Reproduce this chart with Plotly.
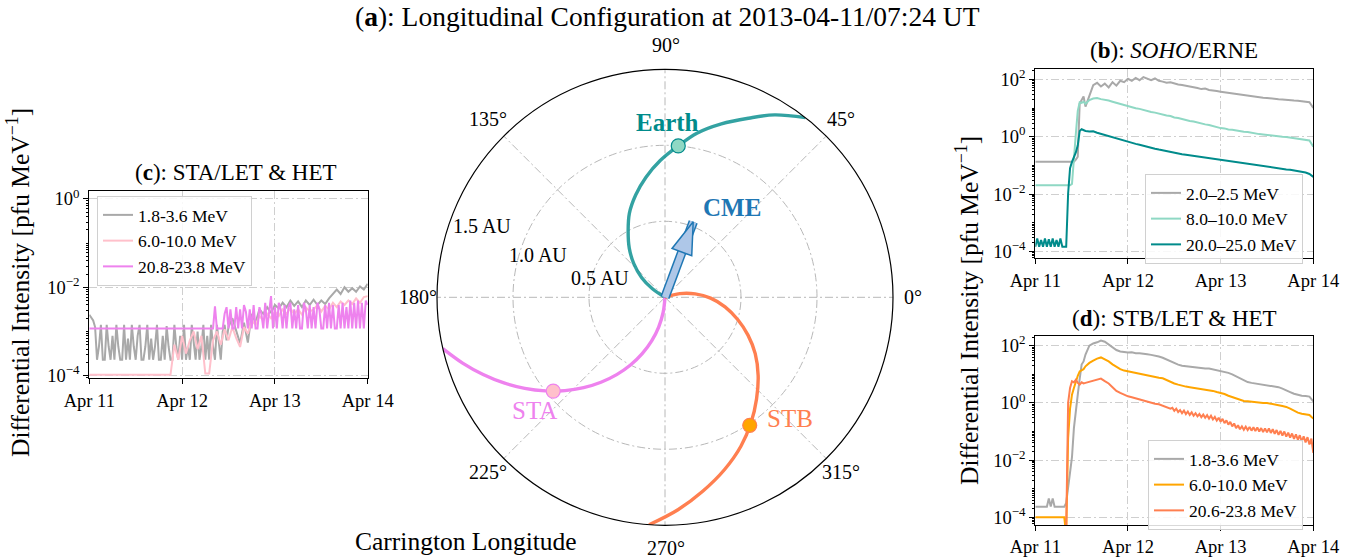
import numpy as np
import pandas as pd
import plotly.graph_objects as go

W, H = 1365, 560
T0 = pd.Timestamp("2013-04-11 00:00")
FONT = "Liberation Serif"

# ---------------- panel (a): longitudinal configuration ----------------
spiral_r_au = [0.0, 0.1, 0.2, 0.3, 0.4, 0.5, 0.6, 0.7, 0.8, 0.9, 1.0, 1.1, 1.2, 1.3, 1.4, 1.5]
earth_spiral_lon = [153, 146, 140, 133, 126, 119, 113, 106, 99, 92, 85, 79, 72, 65, 59, 52]
sta_spiral_lon = [268, 263, 258, 253, 248, 243, 238, 233, 228, 223, 218, 213, 208, 203, 198, 193]
stb_spiral_lon = [382, 374, 366.5, 359, 351, 343, 335.5, 328, 320, 312, 304.5, 297, 289, 281, 273.5, 266]
body_names = ["Earth", "STA", "STB"]
body_r_au = [1.0, 0.96, 1.01]
body_lon = [85.0, 220.0, 303.5]
cme_lon = 69.5
cme_r_au = [0.0, 0.53]
radial_ticks_au = [0.5, 1.0, 1.5]
radial_tick_text = ["0.5 AU", "1.0 AU", "1.5 AU"]
angular_ticks_deg = [0, 45, 90, 135, 180, 225, 270, 315]

# ---------------- time axes ----------------
day_ticks = ["2013-04-11", "2013-04-12", "2013-04-13", "2013-04-14"]
day_tick_labels = ["Apr 11", "Apr 12", "Apr 13", "Apr 14"]

# panel (c) STA/LET & HET, values = log10(intensity); hours since 2013-04-11 00:00
sta_lo_hours = [0.5 * i for i in range(72)] + list(range(36, 73))
sta_18_36 = [-2.62, -2.68, -2.75, -2.9, -3.64, -3.34, -2.85, -3.64, -3.64, -2.85,
             -3.34, -3.64, -3.1, -3.64, -2.85, -3.34, -3.64, -3.64, -2.85, -3.64,
             -3.16, -3.64, -2.85, -3.34, -3.64, -3.1, -2.85, -3.64, -3.64, -3.34,
             -2.85, -3.64, -3.16, -3.64, -3.34, -2.85, -3.64, -3.64, -3.1, -3.64,
             -2.88, -3.34, -3.64, -3.64, -2.85, -3.34, -3.64, -3.1, -3.64, -2.85,
             -3.64, -3.34, -3.64, -2.85, -3.2, -3.64, -3.0, -3.64, -3.34, -2.85,
             -3.64, -3.1, -3.64, -2.85, -3.34, -3.64, -2.85, -3.2, -3.64, -3.0,
             -2.85, -3.2,
             -2.9, -2.7, -3.0, -3.27, -2.8, -3.25, -2.6, -2.8, -2.5, -2.6,
             -2.45, -2.58, -2.4, -2.48, -2.35, -2.45, -2.3, -2.42, -2.32, -2.45,
             -2.3, -2.4, -2.28, -2.4, -2.3, -2.38, -2.25, -2.15, -2.05, -2.15,
             -2.0, -2.1, -2.02, -2.1, -1.98, -2.05, -1.92]
sta_mid_step_h = 1.0
sta_60_100 = [-3.98] * 22 + [
             -3.3, -3.64, -3.1, -3.5, -3.2, -3.0, -3.4, -3.1, -3.95, -3.95,
             -3.2, -3.0, -3.3, -2.95, -3.2, -2.9, -3.15, -3.35, -2.9, -3.05,
             -2.75, -2.85, -2.65, -2.75, -2.6, -2.7, -2.55, -2.65, -2.5, -2.6,
             -2.48, -2.6, -2.5, -2.62, -2.45, -2.55, -2.5, -2.4, -2.55, -2.42,
             -2.5, -2.35, -2.45, -2.32, -2.4, -2.3, -2.38, -2.25, -2.35, -2.22, -2.2]
sta_hi_step_h = 0.5
sta_208_238 = [-2.93] * 64 + [
             -2.93, -2.43, -2.93, -2.93, -2.93, -2.93, -2.6, -2.45, -2.93, -2.5,
             -2.93, -2.93, -2.45, -2.93, -2.5, -2.93, -2.4, -2.55, -2.93, -2.5,
             -2.93, -2.4, -2.93, -2.93, -2.45, -2.6, -2.93, -2.35, -2.93, -2.5,
             -2.2, -2.93, -2.45, -2.93, -2.35, -2.5, -2.93, -2.4, -2.93, -2.45,
             -2.35, -2.93, -2.5, -2.93, -2.4, -2.93, -2.93, -2.35, -2.5, -2.93,
             -2.4, -2.93, -2.45, -2.93, -2.35, -2.5, -2.93, -2.93, -2.4, -2.93,
             -2.35, -2.93, -2.4, -2.93, -2.93, -2.4, -2.93, -2.35, -2.93, -2.45,
             -2.93, -2.3, -2.93, -2.35, -2.93, -2.3, -2.93, -2.35, -2.93, -2.3, -2.4]

# panels (b) and (d): sample hours since 2013-04-11 00:00
fast_hours = [0, 0.5, 1, 1.5, 2, 2.5, 3, 3.5, 4, 4.5, 5, 5.5, 6, 6.5, 7, 7.5, 8, 8.5,
              9, 9.5, 10, 10.5, 11, 11.5, 12, 12.5, 13] + list(range(14, 73))
# 20.6-23.8 MeV STB channel: same grid up to 35 h, then half-hourly
stb_hi_hours = fast_hours[:49] + [35.5 + 0.5 * i for i in range(74)]

# panel (b) SOHO/ERNE, log10(intensity)
erne_20_25 = [-0.874] * 21 + [-0.80, -0.70, 1.16, 1.30, 1.40, 1.05,
             1.45, 1.80, 1.88, 1.75, 1.85, 1.72, 1.90, 1.78, 1.95, 1.90,
             2.02, 1.95, 2.05, 1.97, 2.08, 2.02, 1.97, 2.03, 1.95, 1.92,
             1.88, 1.90, 1.85, 1.82, 1.80, 1.78, 1.74, 1.72, 1.70, 1.66,
             1.68, 1.63, 1.62, 1.59, 1.57, 1.55, 1.54, 1.52, 1.50, 1.46,
             1.45, 1.43, 1.40, 1.39, 1.37, 1.36, 1.35, 1.33, 1.32, 1.31,
             1.30, 1.28, 1.27, 1.26, 1.25, 1.23, 1.22, 1.20, 1.00]
erne_80_100 = [-1.69] * 19 + [-1.65, -0.6, 0.1, 0.9, 1.20, 1.18, 1.22, 1.15,
             1.28, 1.33, 1.35, 1.31, 1.29, 1.26, 1.22, 1.18, 1.13, 1.10,
             1.05, 1.03, 0.99, 0.97, 0.93, 0.91, 0.86, 0.84, 0.80, 0.78,
             0.74, 0.72, 0.67, 0.65, 0.61, 0.59, 0.55, 0.53, 0.49, 0.47,
             0.43, 0.41, 0.37, 0.34, 0.30, 0.29, 0.25, 0.24, 0.21, 0.20,
             0.17, 0.16, 0.13, 0.12, 0.09, 0.08, 0.06, 0.05, 0.03, 0.02,
             0.0, -0.01, -0.03, -0.04, -0.06, -0.07, -0.10, -0.13, -0.35]
erne_200_250 = [-3.84, -3.55, -3.84, -3.6, -3.84, -3.55, -3.84, -3.58, -3.84, -3.55,
             -3.84, -3.6, -3.84, -3.55, -3.84, -3.84, -3.84,
             -1.98, -1.1, -0.88, -0.72, -0.55, -0.3, 0.2, 0.26, 0.22, 0.20,
             0.18, 0.19, 0.14, 0.10, 0.06, 0.03, -0.01, -0.05, -0.09, -0.14,
             -0.19, -0.22, -0.25, -0.28, -0.32, -0.35, -0.38, -0.42, -0.45, -0.48,
             -0.50, -0.53, -0.56, -0.58, -0.61, -0.63, -0.65, -0.67, -0.70, -0.72,
             -0.74, -0.76, -0.78, -0.80, -0.82, -0.84, -0.86, -0.88, -0.90, -0.92,
             -0.94, -0.96, -0.98, -1.00, -1.02, -1.03, -1.05, -1.07, -1.08, -1.10,
             -1.12, -1.14, -1.15, -1.17, -1.20, -1.22, -1.25, -1.30, -1.40]

# panel (d) STB/LET & HET, log10(intensity)
stb_18_36 = [-3.63, -3.63, -3.63, -3.63, -3.63, -3.63, -3.63, -3.34, -3.62, -3.34,
             -3.63, -3.63, -3.63, -3.63, -3.63, -3.63, -3.5, -2.98, -2.5, -1.9,
             -0.88, -0.2, 0.29, 0.85, 1.34, 1.45, 1.69,
             2.0, 2.08, 2.12, 2.18, 2.14, 2.05, 1.95, 1.85, 1.80, 1.78,
             1.76, 1.77, 1.74, 1.74, 1.71, 1.70, 1.68, 1.66, 1.62, 1.58,
             1.52, 1.45, 1.40, 1.34, 1.30, 1.28, 1.27, 1.25, 1.24, 1.22,
             1.20, 1.20, 1.17, 1.15, 1.13, 1.10, 1.05, 1.00, 0.93, 0.86,
             0.80, 0.73, 0.70, 0.68, 0.65, 0.64, 0.62, 0.60, 0.58, 0.55,
             0.50, 0.45, 0.38, 0.32, 0.28, 0.25, 0.24, 0.22, 0.05]
stb_60_100 = [-4.0] * 16 + [-4.6, -1.23, -0.2, 0.29, 0.52, 0.75, 0.95, 1.1, 1.15, 1.18, 1.28,
             1.40, 1.48, 1.55, 1.59, 1.53, 1.45, 1.35, 1.25, 1.18, 1.13,
             1.10, 1.08, 1.06, 1.03, 1.00, 0.97, 0.94, 0.90, 0.88, 0.86,
             0.80, 0.73, 0.68, 0.64, 0.60, 0.57, 0.55, 0.53, 0.52, 0.50,
             0.48, 0.46, 0.42, 0.38, 0.35, 0.31, 0.25, 0.20, 0.15, 0.10,
             0.07, 0.06, 0.04, 0.02, 0.01, 0.0, 0.0, -0.02, -0.05, -0.08,
             -0.11, -0.14, -0.20, -0.27, -0.34, -0.38, -0.40, -0.42, -0.55]
stb_206_238 = [-5.0] * 16 + [-4.5, 0.0, 0.52, 0.76, 0.72, 0.81, 0.70, 0.64, 0.72, 0.68, 0.70,
             0.74, 0.78, 0.82, 0.85, 0.76, 0.68, 0.55, 0.42, 0.35, 0.28,
             0.23, 0.20, 0.16, 0.12, 0.08, 0.03, 0.0, -0.03, -0.05, -0.10,
             -0.15, -0.20,
             -0.17,
             -0.28, -0.20, -0.32, -0.25, -0.36, -0.27, -0.39, -0.30, -0.42, -0.33,
             -0.45, -0.36, -0.47, -0.39, -0.50, -0.41, -0.52, -0.43, -0.55, -0.45,
             -0.58, -0.49, -0.62, -0.52, -0.66, -0.56, -0.71, -0.61, -0.76, -0.66,
             -0.82, -0.72, -0.88, -0.78, -0.92, -0.82, -0.94, -0.83, -0.95, -0.84,
             -0.97, -0.85, -0.98, -0.86, -1.00, -0.88, -1.02, -0.89, -1.03, -0.89,
             -1.05, -0.92, -1.08, -0.95, -1.12, -0.98, -1.14, -1.00, -1.18, -1.04,
             -1.21, -1.07, -1.26, -1.10, -1.29, -1.13, -1.35, -1.17, -1.38, -1.20,
             -1.45, -1.25, -1.75]

# ---------------- helpers ----------------
def t_from_hours(hours):
    return T0 + pd.to_timedelta(np.asarray(hours, dtype=float), unit="h")

def t_regular(n, step):
    return T0 + pd.to_timedelta(np.arange(n) * step, unit="h")

def unlog(vals):
    return np.power(10.0, np.asarray(vals, dtype=float))

def px(x):
    return x / W

def py(y):
    return 1 - y / H

fig = go.Figure()

# ---------------- polar traces ----------------
spiral_specs = [
    (earth_spiral_lon, "rgba(0,139,139,0.8)"),
    (sta_spiral_lon, "violet"),
    (stb_spiral_lon, "coral"),
]
for lon, col in spiral_specs:
    fig.add_trace(go.Scatterpolar(r=spiral_r_au, theta=lon, mode="lines",
                                  line=dict(color=col, width=3.4, shape="spline"),
                                  showlegend=False, hoverinfo="skip", subplot="polar"))

body_fill = ["#8fd8c4", "pink", "orange"]
body_edge = ["darkcyan", "violet", "coral"]
fig.add_trace(go.Scatterpolar(r=body_r_au, theta=body_lon, mode="markers",
                              marker=dict(size=14, color=body_fill,
                                          line=dict(color=body_edge, width=1.2)),
                              text=body_names, showlegend=False, subplot="polar"))

# CME arrow: outlined shaft plus arrow head
cme_theta = [cme_lon, cme_lon]
fig.add_trace(go.Scatterpolar(r=cme_r_au, theta=cme_theta, mode="lines",
                              line=dict(color="#1f77b4", width=9.5, backoff=27),
                              showlegend=False, hoverinfo="skip", subplot="polar"))
fig.add_trace(go.Scatterpolar(r=cme_r_au, theta=cme_theta, mode="lines",
                              line=dict(color="#aec7e8", width=6.5, backoff=26),
                              showlegend=False, hoverinfo="skip", subplot="polar"))
fig.add_trace(go.Scatterpolar(r=cme_r_au[1:], theta=cme_theta[1:], mode="markers",
                              marker=dict(symbol="arrow", size=34, angle=90 - cme_lon,
                                          color="#aec7e8",
                                          line=dict(color="#1f77b4", width=1.5)),
                              showlegend=False, hoverinfo="skip", subplot="polar"))

# ---------------- time series traces ----------------
LW = 2
# (c)
fig.add_trace(go.Scatter(x=t_from_hours(sta_lo_hours), y=unlog(sta_18_36),
                         mode="lines", line=dict(color="darkgray", width=LW),
                         name="1.8-3.6 MeV", xaxis="x", yaxis="y", legend="legend"))
fig.add_trace(go.Scatter(x=t_regular(len(sta_60_100), sta_mid_step_h), y=unlog(sta_60_100),
                         mode="lines", line=dict(color="pink", width=LW),
                         name="6.0-10.0 MeV", xaxis="x", yaxis="y", legend="legend"))
fig.add_trace(go.Scatter(x=t_regular(len(sta_208_238), sta_hi_step_h), y=unlog(sta_208_238),
                         mode="lines", line=dict(color="violet", width=LW),
                         name="20.8-23.8 MeV", xaxis="x", yaxis="y", legend="legend"))
# (b)
fig.add_trace(go.Scatter(x=t_from_hours(fast_hours), y=unlog(erne_20_25),
                         mode="lines", line=dict(color="darkgray", width=LW),
                         name="2.0\u20132.5 MeV", xaxis="x2", yaxis="y2", legend="legend2"))
fig.add_trace(go.Scatter(x=t_from_hours(fast_hours), y=unlog(erne_80_100),
                         mode="lines", line=dict(color="#8fd8c4", width=LW),
                         name="8.0\u201310.0 MeV", xaxis="x2", yaxis="y2", legend="legend2"))
fig.add_trace(go.Scatter(x=t_from_hours(fast_hours), y=unlog(erne_200_250),
                         mode="lines", line=dict(color="darkcyan", width=LW),
                         name="20.0\u201325.0 MeV", xaxis="x2", yaxis="y2", legend="legend2"))
# (d)
fig.add_trace(go.Scatter(x=t_from_hours(fast_hours), y=unlog(stb_18_36),
                         mode="lines", line=dict(color="darkgray", width=LW),
                         name="1.8-3.6 MeV", xaxis="x3", yaxis="y3", legend="legend3"))
fig.add_trace(go.Scatter(x=t_from_hours(fast_hours), y=unlog(stb_60_100),
                         mode="lines", line=dict(color="orange", width=LW),
                         name="6.0-10.0 MeV", xaxis="x3", yaxis="y3", legend="legend3"))
fig.add_trace(go.Scatter(x=t_from_hours(stb_hi_hours), y=unlog(stb_206_238),
                         mode="lines", line=dict(color="coral", width=LW),
                         name="20.6-23.8 MeV", xaxis="x3", yaxis="y3", legend="legend3"))

# ---------------- axes ----------------
GRID = "#cfcfcf"
DASH = "8px,3px,2px,3px"
TICKF = dict(family=FONT, size=18.5, color="black")
minor_vals = [m * 10.0 ** k for k in range(-6, 3) for m in range(1, 10)]

def xaxis_cfg(xdom, anchor):
    return dict(domain=xdom, anchor=anchor, type="date", automargin=False,
                range=[day_ticks[0], day_ticks[-1]], tickvals=day_ticks, ticktext=day_tick_labels,
                ticks="outside", ticklen=5, tickcolor="black", tickfont=TICKF,
                showline=True, mirror=True, linecolor="black", linewidth=1.2,
                showgrid=True, gridcolor=GRID, griddash=DASH, gridwidth=1, zeroline=False)

def yaxis_cfg(ydom, anchor, yr, tv, tt):
    return dict(domain=ydom, anchor=anchor, type="log", range=yr, automargin=False,
                tickvals=tv, ticktext=tt, ticks="outside", ticklen=5, tickcolor="black",
                tickfont=TICKF, showline=True, mirror=True, linecolor="black", linewidth=1.2,
                showgrid=True, gridcolor=GRID, griddash=DASH, gridwidth=1, zeroline=False,
                minor=dict(tickvals=minor_vals, ticks="outside", ticklen=2.5,
                           tickcolor="black", showgrid=False))

ytv_c = [1e-4, 1e-2, 1e0]
ytt_c = ["10<sup>\u22124</sup>", "10<sup>\u22122</sup>", "10<sup>0</sup>"]
ytv_bd = [1e-4, 1e-2, 1e0, 1e2]
ytt_bd = ["10<sup>\u22124</sup>", "10<sup>\u22122</sup>", "10<sup>0</sup>", "10<sup>2</sup>"]

xd_c = [px(89.3), px(367.7)]
yd_c = [py(378.3), py(191)]
xd_bd = [px(1035.3), px(1313.3)]
yd_b = [py(258.3), py(69.3)]
yd_d = [py(525), py(336)]

legend_common = dict(bgcolor="rgba(255,255,255,0.85)", bordercolor="#d0d0d0", borderwidth=1,
                     font=dict(family=FONT, size=17.5, color="black"),
                     xanchor="left", yanchor="top", itemwidth=30, tracegroupgap=0)

annotations = [
    dict(text="(<b>a</b>): Longitudinal Configuration at 2013-04-11/07:24 UT",
         x=px(667), y=py(16), font=dict(size=27.5)),
    dict(text="(<b>c</b>): STA/LET &amp; HET", x=px(236), y=py(172), font=dict(size=23)),
    dict(text="(<b>b</b>): <i>SOHO</i>/ERNE", x=px(1174), y=py(50), font=dict(size=23)),
    dict(text="(<b>d</b>): STB/LET &amp; HET", x=px(1174), y=py(318), font=dict(size=23)),
    dict(text="Carrington Longitude", x=px(466), y=py(541), font=dict(size=25.5)),
    dict(text="Differential Intensity [pfu MeV<sup>\u22121</sup>]", x=px(18), y=py(283),
         textangle=-90, font=dict(size=25.5)),
    dict(text="Differential Intensity [pfu MeV<sup>\u22121</sup>]", x=px(967), y=py(311),
         textangle=-90, font=dict(size=25.5)),
    dict(text="<b>Earth</b>", x=px(667), y=py(122), font=dict(size=25, color="darkcyan")),
    dict(text="<b>CME</b>", x=px(732), y=py(207), font=dict(size=25, color="#1f77b4")),
    dict(text="STA", x=px(534), y=py(411), font=dict(size=25, color="violet")),
    dict(text="STB", x=px(790), y=py(418), font=dict(size=25, color="coral")),
]
# radial distance labels of panel (a)
for txt, (lx, ly) in zip(radial_tick_text, [(600, 278), (538, 255), (482, 226)]):
    annotations.append(dict(text=txt, x=px(lx), y=py(ly), font=dict(size=20)))
# angular (Carrington longitude) labels of panel (a)
ang_label_pos = [(913, 297), (841, 119), (666, 45), (488, 119),
                 (418, 297), (488, 472), (666, 548), (841, 472)]
for d, (lx, ly) in zip(angular_ticks_deg, ang_label_pos):
    annotations.append(dict(text=f"{d}\u00b0", x=px(lx), y=py(ly), font=dict(size=20)))
for a in annotations:
    a.update(xref="paper", yref="paper", showarrow=False, xanchor="center", yanchor="middle")
    a["font"] = dict(family=FONT, color=a["font"].get("color", "black"), size=a["font"]["size"])

fig.update_layout(
    width=W, height=H, autosize=False,
    margin=dict(l=0, r=0, t=0, b=0, autoexpand=False),
    paper_bgcolor="white", plot_bgcolor="white",
    font=dict(family=FONT, color="black", size=19),
    xaxis=xaxis_cfg(xd_c, "y"),
    yaxis=yaxis_cfg(yd_c, "x", [-4.06, 0.18], ytv_c, ytt_c),
    xaxis2=xaxis_cfg(xd_bd, "y2"),
    yaxis2=yaxis_cfg(yd_b, "x2", [-4.24, 2.35], ytv_bd, ytt_bd),
    xaxis3=xaxis_cfg(xd_bd, "y3"),
    yaxis3=yaxis_cfg(yd_d, "x3", [-4.27, 2.34], ytv_bd, ytt_bd),
    polar=dict(
        domain=dict(x=[px(437), px(893)], y=[py(525.3), py(69.3)]),
        bgcolor="white",
        radialaxis=dict(range=[0, 1.5], tickvals=radial_ticks_au, ticktext=radial_tick_text,
                        showticklabels=False, showline=False, ticks="", gridcolor="#b8b8b8",
                        griddash=DASH, gridwidth=1.2),
        angularaxis=dict(rotation=0, direction="counterclockwise", tickvals=angular_ticks_deg,
                         showticklabels=False,
                         showline=True, linecolor="black", linewidth=1.2, ticks="",
                         gridcolor="#b8b8b8", griddash=DASH, gridwidth=1.2),
    ),
    legend=dict(x=px(97), y=py(196), **legend_common),
    legend2=dict(x=px(1145), y=py(174), **legend_common),
    legend3=dict(x=px(1148), y=py(440), **legend_common),
    annotations=annotations,
    showlegend=True,
)

# remove the default page margin so the figure sits at the window's top-left corner
fig.write_html("out.html", config={"displayModeBar": False},
               post_script="document.body.style.margin='0px';")
